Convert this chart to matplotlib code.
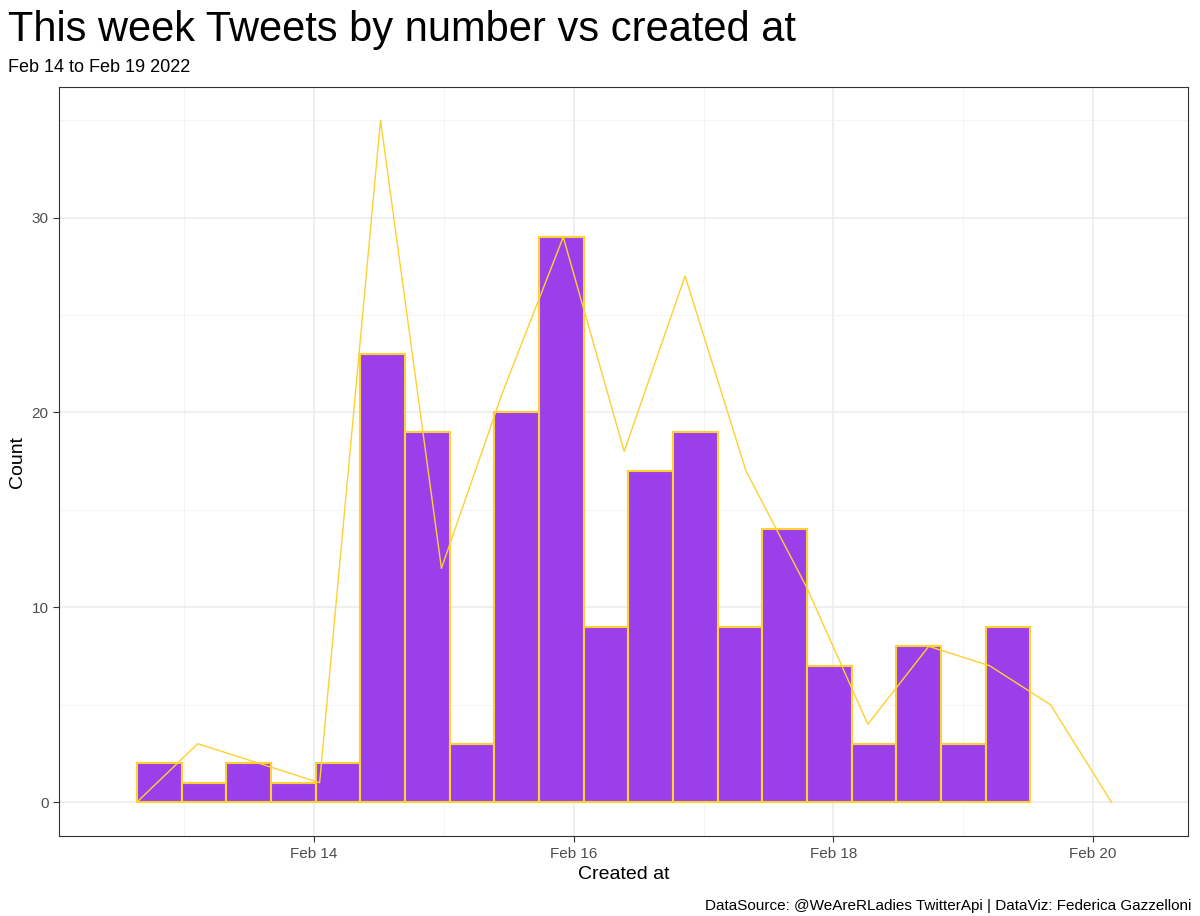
import numpy as np
import matplotlib
matplotlib.use("Agg")
import matplotlib.pyplot as plt

plt.rcParams["font.family"] = ["Liberation Sans", "DejaVu Sans"]

# days relative to Feb 14 00:00
bar_counts = [2, 1, 2, 1, 2, 23, 19, 3, 20, 29, 9, 17, 19, 9, 14, 7, 3, 8, 3, 9]
bar_start = -1.363
bar_width = 0.344

poly_x_start = -1.363
poly_step = 0.469
poly_counts = [0, 3, 2, 1, 35, 12, 21, 29, 18, 27, 17, 11, 4, 8, 7, 5, 0]

tick_pos = [0, 2, 4, 6]
tick_labels = ["Feb 14", "Feb 16", "Feb 18", "Feb 20"]

fig = plt.figure(figsize=(12, 9.16), dpi=100)
ax = fig.add_axes([0.049, 0.087, 0.941, 0.818])

lefts = bar_start + bar_width * np.arange(len(bar_counts))
ax.bar(lefts, bar_counts, width=bar_width, align="edge", color="#9B3FEA",
       edgecolor="#FFD030", linewidth=1.5, zorder=2)
px = poly_x_start + poly_step * np.arange(len(poly_counts))
ax.plot(px, poly_counts, color="#FFD030", lw=1, zorder=3)

ax.set_xlim(-1.964, 6.73)
ax.set_ylim(-1.75, 36.7)
ax.set_xticks(tick_pos, tick_labels)
ax.set_xticks([-1, 1, 3, 5], minor=True)
ax.set_yticks([0, 10, 20, 30])
ax.set_yticks([5, 15, 25, 35], minor=True)
ax.grid(which="major", color="#EBEBEB", lw=1.1, zorder=0)
ax.grid(which="minor", color="#F3F3F3", lw=0.6, zorder=0)
ax.set_axisbelow(True)
ax.tick_params(which="minor", length=0)
ax.tick_params(which="major", length=4, color="#333333", labelsize=11, labelcolor="#4D4D4D")
for s in ax.spines.values():
    s.set_color("#333333")
    s.set_linewidth(0.8)
ax.set_xlabel("Created at", fontsize=14)
ax.set_ylabel("Count", fontsize=14)

fig.text(0.007, 0.955, "This week Tweets by number vs created at", fontsize=30)
fig.text(0.007, 0.921, "Feb 14 to Feb 19 2022", fontsize=13)
fig.text(0.993, 0.007, "DataSource: @WeAreRLadies TwitterApi | DataViz: Federica Gazzelloni",
         fontsize=11, ha="right")

fig.savefig("out.png", dpi=100)
